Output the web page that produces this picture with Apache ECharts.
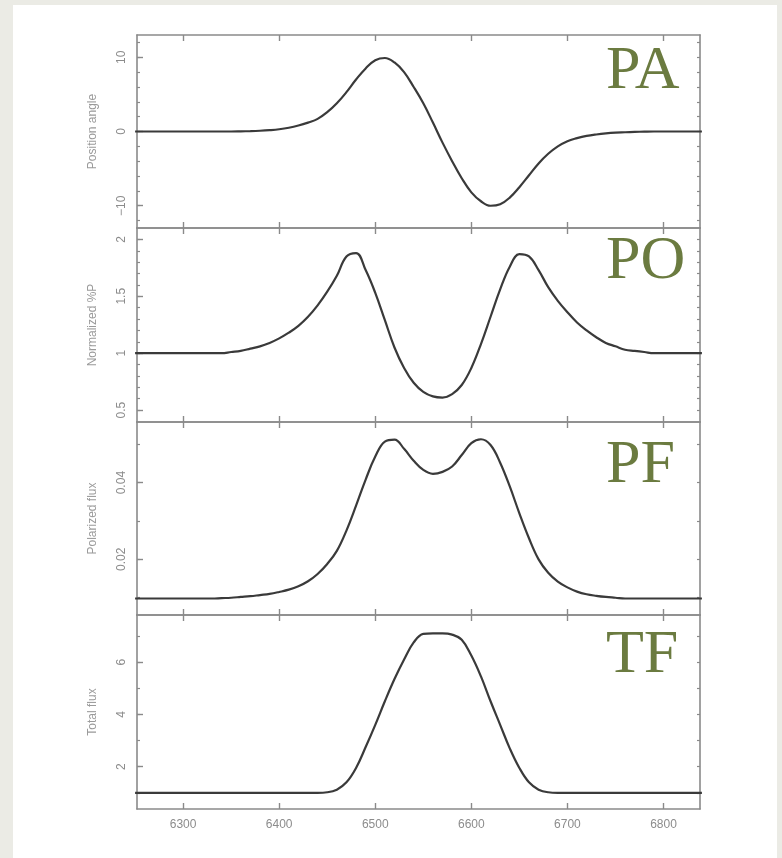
<!DOCTYPE html>
<html><head><meta charset="utf-8">
<script src="https://cdn.jsdelivr.net/npm/echarts@6/dist/echarts.min.js"></script>
<style>html,body{margin:0;padding:0;background:#ebebe5;} #c{width:782px;height:858px;}</style>
</head><body><div id="c"></div><script>
// Wavelength grid (Angstrom)
const wavelength = [6250,6260,6270,6280,6290,6300,6310,6320,6330,6340,6350,6360,6370,6380,6390,6400,6410,6420,6430,6440,6450,6460,6470,6480,6490,6500,6510,6520,6530,6540,6550,6560,6570,6580,6590,6600,6610,6620,6630,6640,6650,6660,6670,6680,6690,6700,6710,6720,6730,6740,6750,6760,6770,6780,6790,6800,6810,6820,6830,6840];
// PA: position angle
const positionAngle = [0,0,0,0,0,0,0,0,0,0,0,0.02,0.05,0.1,0.18,0.3,0.5,0.8,1.2,1.7,2.6,3.8,5.3,7.0,8.5,9.6,9.9,9.3,8.0,6.0,3.8,1.2,-1.5,-4.0,-6.3,-8.2,-9.4,-10.0,-9.8,-8.9,-7.5,-5.9,-4.3,-3.0,-2.0,-1.3,-0.9,-0.6,-0.4,-0.25,-0.15,-0.1,-0.05,-0.02,0,0,0,0,0,0];
// PO: normalized %P
const normalizedP = [1,1,1,1,1,1,1,1,1,1,1.01,1.02,1.04,1.06,1.09,1.13,1.18,1.24,1.32,1.42,1.54,1.68,1.85,1.88,1.73,1.53,1.29,1.05,0.87,0.74,0.66,0.62,0.61,0.64,0.72,0.87,1.08,1.32,1.56,1.76,1.87,1.85,1.73,1.58,1.46,1.36,1.27,1.20,1.14,1.09,1.06,1.03,1.02,1.01,1,1,1,1,1,1];
// PF: polarized flux
const polarizedFlux = [0.0098,0.0098,0.0098,0.0098,0.0098,0.0098,0.0098,0.0098,0.0098,0.0099,0.0100,0.0102,0.0104,0.0107,0.0110,0.0115,0.0121,0.0130,0.0143,0.0162,0.0188,0.0222,0.0275,0.0340,0.0408,0.0468,0.0507,0.0512,0.0488,0.0457,0.0433,0.0423,0.0428,0.0442,0.0472,0.0503,0.0513,0.0498,0.0452,0.0390,0.0320,0.0255,0.0200,0.0165,0.0142,0.0127,0.0116,0.0109,0.0105,0.0102,0.0100,0.0098,0.0098,0.0098,0.0098,0.0098,0.0098,0.0098,0.0098,0.0098];
// TF: total flux
const totalFlux = [1,1,1,1,1,1,1,1,1,1,1,1,1,1,1,1,1,1,1,1,1.02,1.12,1.40,1.95,2.75,3.6,4.5,5.35,6.1,6.75,7.08,7.1,7.1,7.05,6.85,6.25,5.45,4.5,3.6,2.7,1.95,1.40,1.12,1.02,1,1,1,1,1,1,1,1,1,1,1,1,1,1,1,1];

const xTicks = [6300,6400,6500,6600,6700,6800];
const panelTags = ['PA','PO','PF','TF'];
const yTitles = ['Position angle','Normalized %P','Polarized flux','Total flux'];
const yLabelTicks = [[-10,0,10],[0.5,1,1.5,2],[0.02,0.04],[2,4,6]];
const yMinorTicks = [[-12,-10,-8,-6,-4,-2,0,2,4,6,8,10,12],
  [0.5,0.6,0.7,0.8,0.9,1,1.1,1.2,1.3,1.4,1.5,1.6,1.7,1.8,1.9,2],
  [0.01,0.02,0.03,0.04,0.05],
  [1,2,3,4,5,6,7]];
const seriesValues = [positionAngle, normalizedP, polarizedFlux, totalFlux];

const yRanges = [[-13,13],[0.395,2.1],[0.0055,0.0558],[0.38,7.8]];
const gridTops = [35,228,422,615];
const gridH = [193,194,193,194];
const tagY = [72,262,466,656];

const frameColor = '#8a8a8a';
const labelColor = '#8c8c8c';
const fontFam = '"Liberation Sans", Arial, sans-serif';

const grids = [], xAxes = [], yAxes = [], series = [], graphics = [];
graphics.push({type:'rect', shape:{x:13,y:5,width:764,height:853}, style:{fill:'#ffffff'}, z:-10, silent:true});

for (let i = 0; i < 4; i++) {
  grids.push({left:137, width:563, top:gridTops[i], height:gridH[i], outerBoundsMode:'none', containLabel:false});
  const xBase = {type:'value', gridIndex:i, min:6252, max:6838, splitLine:{show:false},
    axisLine:{show:true, onZero:false, lineStyle:{color:frameColor, width:1.6}},
    axisTick:{show:true, inside:true, length:6, customValues:xTicks, lineStyle:{color:frameColor, width:1.4}}};
  xAxes.push(Object.assign({}, xBase, {position:'bottom',
    axisLabel:{show:i===3, customValues:xTicks, color:labelColor, fontSize:12, fontFamily:fontFam, margin:10,
      formatter: v => String(v)}}));
  xAxes.push(Object.assign({}, xBase, {position:'top', axisLabel:{show:false}}));
  const yBase = {type:'value', gridIndex:i, min:yRanges[i][0], max:yRanges[i][1], splitLine:{show:false}};
  yAxes.push(Object.assign({}, yBase, {position:'left',
    name: yTitles[i], nameLocation:'middle', nameGap:38, nameRotate:90,
    nameTextStyle:{color:'#9a9a9a', fontSize:12, fontFamily:fontFam},
    axisLine:{show:true, onZero:false, lineStyle:{color:frameColor, width:1.6}},
    axisTick:{show:true, inside:true, length:6, customValues:yLabelTicks[i], lineStyle:{color:frameColor, width:1.4}},
    axisLabel:{show:true, customValues:yLabelTicks[i], rotate:90, margin:9, color:labelColor, fontSize:12, fontFamily:fontFam,
      formatter: v => String(v).replace('-', '\u2212')}}));
  yAxes.push(Object.assign({}, yBase, {position:'left',
    axisLine:{show:false}, axisLabel:{show:false},
    axisTick:{show:true, inside:true, length:3, customValues:yMinorTicks[i], lineStyle:{color:frameColor, width:1.2}}}));
  yAxes.push(Object.assign({}, yBase, {position:'right',
    axisLine:{show:true, onZero:false, lineStyle:{color:frameColor, width:1.6}}, axisLabel:{show:false},
    axisTick:{show:true, inside:true, length:3, customValues:yMinorTicks[i], lineStyle:{color:frameColor, width:1.2}}}));
  series.push({type:'line', xAxisIndex:2*i, yAxisIndex:3*i, showSymbol:false, smooth:0.4,
    data: wavelength.map((w, k) => [w, seriesValues[i][k]]),
    lineStyle:{color:'#3a3a3a', width:2.2}, silent:true, animation:false});
  graphics.push({type:'text', x:606, y:tagY[i], z:10, silent:true,
    style:{text:panelTags[i], fill:'#6b7b40', font:'62px "Liberation Serif", "Times New Roman", serif', textAlign:'left', textVerticalAlign:'middle'}});
}

const chart = echarts.init(document.getElementById('c'), null, {renderer:'canvas'});
chart.setOption({animation:false, grid:grids, xAxis:xAxes, yAxis:yAxes, series:series, graphic:graphics});
</script></body></html>
